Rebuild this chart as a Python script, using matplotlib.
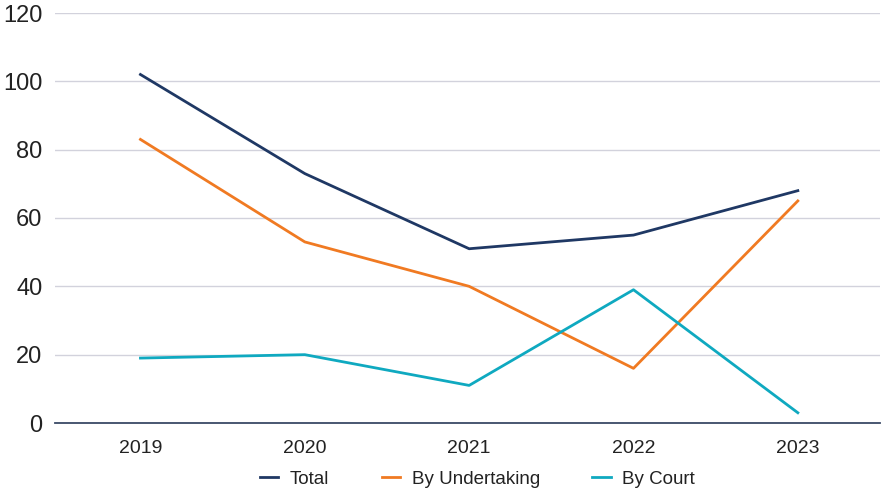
import matplotlib
matplotlib.use("Agg")
import matplotlib.pyplot as plt

plt.rcParams['font.family'] = ['Liberation Sans', 'DejaVu Sans']

years = ["2019", "2020", "2021", "2022", "2023"]
total = [102, 73, 51, 55, 68]
by_undertaking = [83, 53, 40, 16, 65]
by_court = [19, 20, 11, 39, 3]
y_ticks = [0, 20, 40, 60, 80, 100, 120]

fig = plt.figure(figsize=(8.83, 4.92), dpi=100)
ax = fig.add_axes([55 / 883, 1 - 423 / 492, 825 / 883, 410 / 492])

x = list(range(len(years)))
ax.plot(x, total, color="#1f3864", lw=2, label="Total")
ax.plot(x, by_undertaking, color="#f07a22", lw=2, label="By Undertaking")
ax.plot(x, by_court, color="#0fa9c0", lw=2, label="By Court")

ax.set_xlim(-0.52, 4.5)
ax.set_ylim(0, 120)
ax.set_yticks(y_ticks)
ax.set_xticks(x)
ax.set_xticklabels(years)
ax.grid(axis="y", color="#d2d2dc", lw=1)
ax.set_axisbelow(True)
for s in ["top", "right", "left"]:
    ax.spines[s].set_visible(False)
ax.spines["bottom"].set_color("#3a4a66")
ax.spines["bottom"].set_linewidth(1.3)
ax.tick_params(axis="y", length=0, pad=9, labelsize=17, labelcolor="#222222")
ax.tick_params(axis="x", length=0, pad=12, labelsize=14, labelcolor="#222222")

leg = ax.legend(loc="center", bbox_to_anchor=(0.512, -0.137), ncol=3,
                frameon=False, fontsize=13.5, handlelength=1.0,
                columnspacing=2.8, handletextpad=0.6)
for t in leg.get_texts():
    t.set_color("#222222")

fig.savefig("out.png", dpi=100)
